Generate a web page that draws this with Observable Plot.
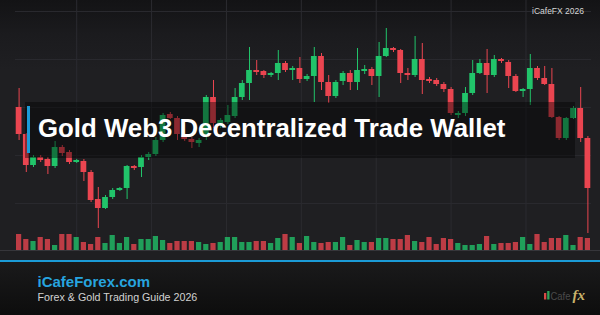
<!DOCTYPE html>
<html>
<head>
<meta charset="utf-8">
<script src="https://cdn.jsdelivr.net/npm/d3@7"></script>
<script src="https://cdn.jsdelivr.net/npm/@observablehq/plot@0.6"></script>
<style>
  html, body { margin: 0; padding: 0; background: #111; }
  #card {
    position: relative; width: 600px; height: 315px; overflow: hidden;
    background: linear-gradient(to bottom, #131315 0px, #1b1b1e 35px, #1f1f22 70px, #1f1f22 262px);
    font-family: "Liberation Sans", Arial, sans-serif;
  }
  #card > div, #card > svg { position: absolute; left: 0; top: 0; }
</style>
</head>
<body>
<div id="card">
  <div id="price"></div>
  <div id="volume"></div>
  <svg id="overlay" width="600" height="315"></svg>
</div>
<script>
// Daily OHLC series (USD/oz) and traded volume, one entry per session
const opens = [2443,2416,2385,2393,2391,2384,2403,2398,2388,2389,
               2378,2351,2342,2353,2360,2362,2384,2383,2393,2396,
               2410,2436,2432,2415,2411,2407,2415,2453,2425,2428,
               2434,2453,2467,2480,2479,2475,2477,2487,2480,2482,
               2471,2474,2494,2468,2454,2469,2477,2468,2479,2481,
               2474,2494,2502,2500,2477,2475,2491,2471,2470,2466,
               2461,2435,2437,2457,2477,2487,2475,2491,2488,2474,
               2459,2461,2482,2472,2466,2433,2412,2432,2442,2412];
const highs = [2462,2417,2395,2395,2393,2409,2405,2400,2391,2391,
               2380,2363,2355,2362,2363,2385,2385,2395,2398,2413,
               2437,2438,2434,2417,2413,2412,2455,2470,2432,2445,
               2462,2470,2503,2490,2480,2478,2500,2489,2484,2493,
               2476,2503,2497,2475,2470,2479,2480,2502,2485,2483,
               2508,2522,2503,2501,2482,2514,2507,2473,2472,2468,
               2463,2439,2463,2490,2491,2501,2495,2492,2490,2476,
               2462,2496,2484,2484,2482,2434,2433,2444,2463,2414];
const lows = [2410,2378,2383,2388,2376,2382,2394,2386,2387,2369,
              2348,2322,2341,2351,2359,2351,2380,2373,2390,2394,
              2408,2431,2410,2409,2402,2403,2410,2422,2422,2426,
              2432,2450,2450,2475,2472,2473,2470,2478,2470,2467,
              2469,2448,2460,2447,2452,2465,2460,2460,2476,2465,
              2453,2493,2498,2467,2470,2473,2456,2467,2464,2458,
              2435,2432,2434,2455,2476,2457,2473,2487,2462,2458,
              2453,2445,2470,2465,2432,2410,2410,2431,2408,2317];
const closes = [2416,2385,2393,2390,2384,2403,2397,2388,2390,2378,
                2350,2342,2353,2360,2362,2384,2382,2393,2396,2410,
                2435,2432,2416,2411,2408,2410,2453,2427,2430,2435,
                2453,2467,2480,2478,2475,2477,2487,2480,2482,2471,
                2474,2494,2468,2454,2468,2477,2468,2480,2481,2474,
                2494,2502,2500,2477,2475,2491,2470,2469,2466,2461,
                2437,2437,2457,2477,2487,2475,2491,2489,2474,2459,
                2461,2482,2472,2466,2433,2412,2432,2442,2412,2362];
const volumes = [1600,1100,900,1300,1100,500,1600,1600,1300,800,
                 600,1300,700,1500,700,1300,600,1100,1100,1400,
                 1000,700,900,900,900,800,600,700,800,1300,
                 1300,800,800,900,900,700,1200,1600,1300,700,
                 1400,800,700,800,800,1300,500,1000,800,800,
                 1200,1200,1100,1100,1500,900,800,1300,600,1200,
                 1100,700,500,500,600,1400,600,700,700,800,
                 1300,600,1600,800,1200,1200,1500,500,1300,1200];

// Grid positions (session index / price level)
const xGridTicks = [8, 18.4, 28.8, 39.2, 49.6, 60, 70.4];
const yGridTicks = [2347, 2395, 2443, 2491, 2539];

const UP = "#21c46a", DOWN = "#ea4550";

const candles = opens.map((o, i) => ({
  i, open: o, high: highs[i], low: lows[i], close: closes[i], volume: volumes[i],
  color: closes[i] >= o ? UP : DOWN
}));

const xScale = {domain: [-0.5, candles.length - 0.5], range: [15, 591], axis: null};
const half = 0.4;

const pricePlot = Plot.plot({
  width: 600, height: 262, margin: 0,
  style: {background: "transparent", overflow: "visible"},
  x: xScale,
  y: {domain: [2300, 2550], range: [250, 0], axis: null},
  marks: [
    Plot.ruleX(xGridTicks, {x: d => d, y1: 2300, y2: 2550, stroke: "#2b2b30", strokeWidth: 1}),
    Plot.ruleY(yGridTicks, {y: d => d, x1: -0.5, x2: candles.length - 0.5, stroke: "#29292e", strokeWidth: 1}),
    Plot.ruleY([2300], {stroke: "#36363b", strokeWidth: 1}),
    Plot.ruleX(candles, {x: "i", y1: "low", y2: "high", stroke: "color", strokeWidth: 1}),
    Plot.rect(candles, {x1: d => d.i - half, x2: d => d.i + half, y1: "open", y2: "close", fill: "color"})
  ]
});
document.getElementById("price").append(pricePlot);

const volumePlot = Plot.plot({
  width: 600, height: 262, margin: 0,
  style: {background: "transparent", overflow: "visible"},
  x: xScale,
  y: {domain: [0, 2500], range: [250, 225], axis: null},
  marks: [
    Plot.rect(candles, {x1: d => d.i - 0.36, x2: d => d.i + 0.36, y1: 0, y2: "volume", fill: "color", fillOpacity: 0.78})
  ]
});
document.getElementById("volume").append(volumePlot);

// Title banner, watermark and footer
const svg = d3.select("#overlay");
const defs = svg.append("defs");
const fg = defs.append("linearGradient").attr("id", "footGrad").attr("x1", 0).attr("y1", 0).attr("x2", 0).attr("y2", 1);
fg.append("stop").attr("offset", "0%").attr("stop-color", "#1a1a1b");
fg.append("stop").attr("offset", "100%").attr("stop-color", "#0d0d0d");

svg.append("rect").attr("x", 25).attr("y", 102).attr("width", 550).attr("height", 56)
  .attr("fill", "#000").attr("fill-opacity", 0.4);
svg.append("rect").attr("x", 27).attr("y", 106).attr("width", 3).attr("height", 47).attr("fill", "#1b9bd7");
svg.append("text").attr("x", 38).attr("y", 137)
  .attr("font-family", "'Liberation Sans', Arial, sans-serif").attr("font-weight", "bold")
  .attr("font-size", 25.8).attr("fill", "#ffffff")
  .text("Gold Web3 Decentralized Trade Wallet");

svg.append("text").attr("x", 584).attr("y", 14).attr("text-anchor", "end")
  .attr("font-family", "'Liberation Sans', Arial, sans-serif").attr("font-size", 8.5)
  .attr("fill", "#d6d6d6").text("iCafeFX 2026");

svg.append("rect").attr("x", 0).attr("y", 262).attr("width", 600).attr("height", 53).attr("fill", "url(#footGrad)");
svg.append("rect").attr("x", 0).attr("y", 260).attr("width", 600).attr("height", 2).attr("fill", "#1b9bd7");

svg.append("text").attr("x", 37.5).attr("y", 287)
  .attr("font-family", "'Liberation Sans', Arial, sans-serif").attr("font-weight", "bold")
  .attr("font-size", 15).attr("fill", "#27a4df").text("iCafeForex.com");
svg.append("text").attr("x", 37.5).attr("y", 300.5)
  .attr("font-family", "'Liberation Sans', Arial, sans-serif")
  .attr("font-size", 10.7).attr("fill", "#d2d2d2").text("Forex & Gold Trading Guide 2026");

// small brand mark
const logo = svg.append("g");
logo.append("rect").attr("x", 544).attr("y", 293).attr("width", 2.3).attr("height", 6.5).attr("fill", "#d84a45");
logo.append("rect").attr("x", 547.2).attr("y", 291).attr("width", 2.3).attr("height", 8.5).attr("fill", "#2fa35a");
logo.append("text").attr("x", 550.5).attr("y", 299.5)
  .attr("font-family", "'Liberation Sans', Arial, sans-serif").attr("font-size", 11)
  .attr("textLength", 20).attr("lengthAdjust", "spacingAndGlyphs")
  .attr("fill", "#4a4a4a").text("Cafe");
logo.append("text").attr("x", 572.5).attr("y", 299.5)
  .attr("font-family", "'Liberation Serif', 'DejaVu Serif', serif").attr("font-style", "italic").attr("font-weight", "bold")
  .attr("font-size", 15).attr("fill", "#c9b26a").text("fx");
</script>
</body>
</html>
